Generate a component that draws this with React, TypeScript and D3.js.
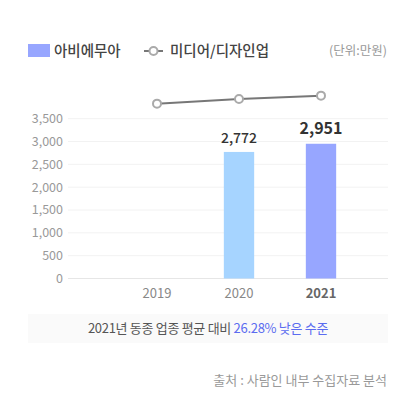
import React, { useEffect, useRef } from 'react';
import * as d3 from 'd3';

const years = ['2019', '2020', '2021'];
const barValues = [null, 2772, 2951];
const lineValues = [3830, 3930, 4005];
const yTicks = [0, 500, 1000, 1500, 2000, 2500, 3000, 3500];
const barColors = ['#a6d4ff', '#a6d4ff', '#97a6ff'];

export default function App() {
    const ref = useRef<SVGSVGElement>(null);

    useEffect(() => {
        const svg = d3.select(ref.current);
        svg.selectAll('*').remove();
        const font = '"Noto Sans CJK KR", "Noto Sans", sans-serif';

        const x = d3.scaleBand().domain(years).range([116, 362]).paddingInner(0.63).paddingOuter(0.315);
        const y = d3.scaleLinear().domain([0, 3500]).range([278.5, 118.7]);

        // legend
        svg.append('rect').attr('x', 28).attr('y', 44).attr('width', 22).attr('height', 13).attr('fill', '#97a6ff');
        svg.append('text').attr('x', 54).attr('y', 50.5).attr('dy', '0.35em')
            .attr('font-size', 14.5).attr('font-weight', 500).attr('fill', '#444').attr('font-family', font).text('아비에무아');
        svg.append('line').attr('x1', 144).attr('x2', 163).attr('y1', 51).attr('y2', 51).attr('stroke', '#777').attr('stroke-width', 2);
        svg.append('circle').attr('cx', 153.5).attr('cy', 51).attr('r', 4).attr('fill', '#fff').attr('stroke', '#aaa').attr('stroke-width', 2);
        svg.append('text').attr('x', 170).attr('y', 50.5).attr('dy', '0.35em')
            .attr('font-size', 14.5).attr('font-weight', 500).attr('fill', '#444').attr('font-family', font).text('미디어/디자인업');
        svg.append('text').attr('x', 387).attr('y', 50.5).attr('dy', '0.35em').attr('text-anchor', 'end')
            .attr('font-size', 12.5).attr('fill', '#999').attr('font-family', font).text('(단위:만원)');

        // grid
        svg.append('g').selectAll('line').data(yTicks).enter().append('line')
            .attr('x1', 68).attr('x2', 388)
            .attr('y1', d => y(d)).attr('y2', d => y(d))
            .attr('stroke', d => d === 0 ? '#e6e6e6' : '#f2f2f2').attr('stroke-width', 1);

        svg.append('g').selectAll('text').data(yTicks).enter().append('text')
            .attr('x', 63).attr('y', d => y(d)).attr('dy', '0.35em').attr('text-anchor', 'end')
            .attr('font-size', 12.5).attr('fill', '#999').attr('font-family', font)
            .text(d => d3.format(',')(d));

        // bars
        const bars = years.map((yr, i) => ({ yr, v: barValues[i], i })).filter(d => d.v !== null);
        svg.append('g').selectAll('rect').data(bars).enter().append('rect')
            .attr('x', d => x(d.yr)!).attr('width', x.bandwidth())
            .attr('y', d => y(d.v as number)).attr('height', d => y(0) - y(d.v as number))
            .attr('fill', d => barColors[d.i]);

        svg.append('g').selectAll('text').data(bars).enter().append('text')
            .attr('x', d => x(d.yr)! + x.bandwidth() / 2)
            .attr('y', d => y(d.v as number) - (d.i === 2 ? 10 : 9))
            .attr('text-anchor', 'middle')
            .attr('font-size', d => d.i === 2 ? 16 : 14)
            .attr('font-weight', d => d.i === 2 ? 700 : 500)
            .attr('fill', '#333').attr('font-family', font)
            .text(d => d3.format(',')(d.v as number));

        // line
        const cx = (yr: string) => x(yr)! + x.bandwidth() / 2;
        const line = d3.line<number>().x((_, i) => cx(years[i])).y(d => y(d));
        svg.append('path').datum(lineValues).attr('d', line).attr('fill', 'none').attr('stroke', '#777').attr('stroke-width', 2);
        svg.append('g').selectAll('circle').data(lineValues).enter().append('circle')
            .attr('cx', (_, i) => cx(years[i])).attr('cy', d => y(d)).attr('r', 4)
            .attr('fill', '#fff').attr('stroke', '#aaa').attr('stroke-width', 2);

        // x labels
        svg.append('g').selectAll('text').data(years).enter().append('text')
            .attr('x', d => cx(d)).attr('y', 293).attr('dy', '0.35em').attr('text-anchor', 'middle')
            .attr('font-size', 13).attr('font-weight', (_, i) => i === 2 ? 700 : 400)
            .attr('fill', (_, i) => i === 2 ? '#666' : '#888').attr('font-family', font)
            .text(d => d);

        // summary box
        svg.append('rect').attr('x', 28).attr('y', 314).attr('width', 360).attr('height', 29).attr('fill', '#fafafa');
        const t = svg.append('text').attr('x', 208).attr('y', 328.5).attr('dy', '0.35em').attr('text-anchor', 'middle')
            .attr('font-size', 13).attr('font-family', font).attr('letter-spacing', -0.3);
        t.append('tspan').attr('fill', '#555').text('2021년 동종 업종 평균 대비 ');
        t.append('tspan').attr('fill', '#5b6cf0').text('26.28% 낮은 수준');

        svg.append('text').attr('x', 387).attr('y', 380).attr('dy', '0.35em').attr('text-anchor', 'end')
            .attr('font-size', 13).attr('fill', '#999').attr('font-family', font).text('출처 : 사람인 내부 수집자료 분석');
    }, []);

    return (
        <svg ref={ref} width={417} height={397} style={{ position: 'absolute', left: 0, top: 0, background: '#fff' }} />
    );
}
